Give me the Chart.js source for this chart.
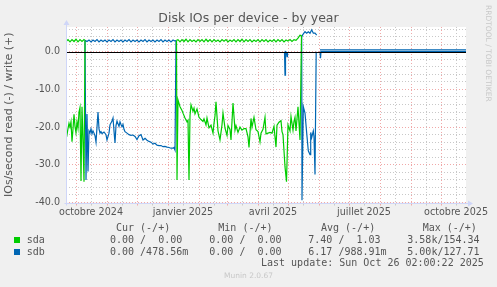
<!DOCTYPE html>
<html>
<head>
<meta charset="utf-8">
<script src="https://cdn.jsdelivr.net/npm/chart.js@4.4.1/dist/chart.umd.min.js"></script>
<style>
body { margin: 0; background: #f0f0f0; }
#wrap { position: relative; width: 497px; height: 287px; overflow: hidden; }
canvas { position: absolute; left: 0; top: 0; }
.t { position: absolute; font-family: 'DejaVu Sans Mono', monospace; font-size: 10px; line-height: 12px; color: #555; white-space: pre; }
.box { position: absolute; width: 6px; height: 6px; }
.sig { position: absolute; font-family: 'DejaVu Sans', sans-serif; font-size: 7.5px; line-height: 9px; color: #c8c8c8; white-space: pre; }
</style>
</head>
<body>
<div id="wrap">
<canvas id="chart" width="497" height="287"></canvas>
<div class="sig" style="left:484px; top:5px; writing-mode:vertical-rl;">RRDTOOL / TOBI OETIKER</div>
<div class="sig" style="left:0; width:497px; text-align:center; top:271px;">Munin 2.0.67</div>
<div id="legend"></div>
</div>
<script>
// days since 2024-09-21 (start of the 400 day window)
const monthDays = [10, 41, 71, 102, 133, 161, 192, 222, 253, 283, 314, 345, 375];
const midDays = [25, 56, 86, 117, 148, 176, 207, 237, 268, 298, 329, 360, 390];
const labelDays = [25, 117, 207, 298, 390];
const monthLabels = ['octobre 2024', 'janvier 2025', 'avril 2025', 'juillet 2025', 'octobre 2025'];
const yGrid = [-40, -38, -36, -34, -32, -30, -28, -26, -24, -22, -20, -18, -16, -14, -12, -10, -8, -6, -4, -2, 0, 2, 4, 6];
const yLabels = [-40, -30, -20, -10, 0];

// [day, value] ; null breaks the line
const sdaRead = [
  [0,-21.2],[1,-22],[2,-20.4],[3,-19],[4,-20],[5,-18.6],[6,-23.9],[7,-20.5],[8,-16.6],[9,-19.8],
  [10,-21.5],[11,-18.6],[12,-20.3],[13,-16],[14,-14.8],[15,-34.3],[16,-14.6],[17,-23.4],[18,-34.5],[19,3.0],
  [19.5,null],
  [110.5,3.0],[111,-34],[112,-12.8],[114,-14.6],[116,-15.6],[117,-16.3],[119,-17.6],[121,-18.6],[122,-18.2],
  [123,-34],[124,-17],[125,-14.1],[127,-15.8],[128,-15],[129,-16.5],[131,-15.2],[133,-17.4],[135,-18],
  [137,-18.5],[138,-17.8],[140,-19.4],[141,-17.6],[143,-20.2],[145,-19.5],[147,-21.6],[148,-19],[149,-17],
  [150,-13.3],[152,-21],[154,-23.4],[156,-19.4],[157,-16.3],[159,-20.3],[161,-22.2],[162,-19.6],[164,-20.6],
  [165,-23.4],[167,-13.6],[169,-20.8],[170,-19.6],[172,-21.4],[174,-20],[176,-20.8],[178,-20.4],[180,-20.4],
  [182,-22.6],[183,-25.4],[185,-17.7],[186,-20],[188,-17.4],[190,-20.7],[192,-21.2],[194,-23.9],[195,-21.6],
  [197,-20.6],[199,-17.4],[200,-21.8],[202,-21.6],[204,-21.4],[206,-21.6],[208,-19.8],[210,-25.3],[211,-19.5],
  [213,-18.7],[215,-18.3],[216,-21.2],[217,-22],[219,-30.5],[220.5,-34.5],[222,-19.4],[224,-21],[225,-17.2],
  [227,-20.8],[228,-18.5],[229,-17.4],[230,-21],[232,-14.6],[234,-23.4],[235.5,4.3]
];
const sdaWrite = [
  [0,2.7],[2,3.2],[4,2.6],[6,3.2],[8,2.7],[10,3.3],[12,2.6],[14,3.2],[16,2.7],[18,3.2],[19,3.0],
  [19.5,null],
  [110.5,3.0],[112,3.2],[114,2.6],[116,3.2],[118,2.7],[120,3.3],[122,2.6],[124,3.2],[126,2.7],[128,3.1],
  [130,2.6],[132,3.2],[134,2.7],[136,3.2],[138,2.6],[140,3.3],[142,2.7],[144,3.2],[146,2.6],[148,3.2],
  [150,2.7],[152,3.1],[154,2.6],[156,3.2],[158,2.8],[160,3.2],[162,2.6],[164,3.1],[166,2.7],[168,3.2],
  [170,2.6],[172,3.2],[174,2.7],[176,3.3],[178,2.6],[180,3.2],[182,2.7],[184,3.2],[186,2.6],[188,3.1],
  [190,2.7],[192,3.2],[194,2.6],[196,3.2],[198,2.7],[200,3.2],[202,2.6],[204,3.1],[206,2.7],[208,3.2],
  [210,2.6],[212,3.2],[214,2.7],[216,3.2],[218,2.6],[220,3.1],[222,2.8],[224,3.2],[226,2.7],[228,3.2],
  [230,3.0],[232,3.6],[234,4.4],[235.5,4.3]
];
const sdbRead = [
  [19,3.0],[20,-34],[21,-16.5],[22,-31.8],[23,-21],[24,-21.5],[25,-20.5],[26,-21.8],[27,-21],[28,-21.6],
  [29,-22.3],[30,-24],[31,-20],[32,-16],[33,-20.5],[34,-21.6],[35,-21.2],[36,-21.7],[38,-21.3],[40,-22],
  [41,-23.4],[43,-21.6],[44,-19.4],[46,-18.4],[47,-17.6],[48,-21],[49,-24.2],[50,-19.6],[51,-18.4],[53,-19.8],
  [54,-18.6],[55,-19.3],[56,-19.9],[57,-19.3],[58,-20.6],[59,-21.2],[61,-21.6],[63,-22],[65,-22.2],[67,-22.1],
  [69,-22.5],[71,-23.3],[73,-22.3],[75,-22],[77,-23.4],[79,-23],[81,-23.5],[83,-23.8],[85,-24],[87,-24.5],
  [89,-24.3],[91,-24.8],[93,-24.9],[95,-24.9],[97,-25.2],[99,-25.1],[101,-25.3],[103,-25.4],[105,-25.6],
  [107,-25.6],[108,-25.4],[109,-26.1],[110,3.0],
  [110.5,null],
  [218.5,0],[219,-6.2],[219.5,0],[220.5,-0.2],[221,-1.3],[221.5,-0.2],
  [222,null],
  [235.7,4.0],[236,-39.4],[237.3,-14.6],[239,-16.3],[240.7,-21.6],[242.3,-26.3],[244,-27.3],[244.7,-21.4],
  [245.7,-22.8],[247.3,-21],[248,-22.5],[249,-32.6],[250.2,0],
  [251,null],
  [254,0],[254.5,-1.7],[255,0],[400,0]
];
const sdbWrite = [
  [19,3.0],[21,2.7],[23,3.1],[25,2.6],[27,3.1],[29,2.7],[31,3.2],[33,2.6],[35,3.1],[37,2.7],[39,3.1],
  [41,2.6],[43,3.1],[45,2.7],[47,3.2],[49,2.6],[51,3.1],[53,2.7],[55,3.1],[57,2.6],[59,3.1],[61,2.7],
  [63,3.2],[65,2.6],[67,3.1],[69,2.7],[71,3.1],[73,2.6],[75,3.1],[77,2.7],[79,3.2],[81,2.6],[83,3.1],
  [85,2.7],[87,3.1],[89,2.6],[91,3.1],[93,2.7],[95,3.2],[97,2.6],[99,3.1],[101,2.7],[103,3.1],[105,2.6],
  [107,3.1],[109,2.8],[110,3.0],
  [110.5,null],
  [235.7,4.0],[237,4.6],[239,5.3],[240.7,4.9],[242.3,5.3],[244,4.9],[245.7,5.8],[247.3,4.9],[249,4.9],[250.7,4.4],
  [251,null],
  [254,0.5],[400,0.5]
];

const seriesNames = ['sda', 'sdb'];
const seriesColors = ['#00cc00', '#0066b3'];
const statHeaders = ['Cur (-/+)', 'Min (-/+)', 'Avg (-/+)', 'Max (-/+)'];
const sdaStats = ['0.00 /  0.00', '0.00 /  0.00', '7.40 /  1.03', '3.58k/154.34'];
const sdbStats = ['0.00 /478.56m', '0.00 /  0.00', '6.17 /988.91m', '5.00k/127.71'];
const lastUpdate = 'Last update: Sun Oct 26 02:00:22 2025';

const gridDays = monthDays.concat(midDays).sort((a, b) => a - b);
const fontCol = '#555';
const pink = '#f0a8a8';
const grey = '#c8c8c8';

function line(data, color) {
    return {
        data: data.map(p => ({ x: p[0], y: p[1] })),
        borderColor: color,
        borderWidth: 1.2,
        pointRadius: 0,
        tension: 0,
        spanGaps: false,
        fill: false,
    };
}

const frame = {
    id: 'frame',
    beforeDraw(c) {
        const a = c.chartArea, ctx = c.ctx;
        ctx.save();
        ctx.fillStyle = '#fff';
        ctx.fillRect(a.left, a.top, a.right - a.left, a.bottom - a.top);
        ctx.restore();
    },
    afterDatasetsDraw(c) {
        const a = c.chartArea, ctx = c.ctx;
        const y0 = Math.round(c.scales.y.getPixelForValue(0)) + 0.5;
        ctx.save();
        ctx.strokeStyle = '#000';
        ctx.lineWidth = 1;
        ctx.beginPath();
        ctx.moveTo(a.left, y0);
        ctx.lineTo(a.right, y0);
        ctx.stroke();
        ctx.restore();
    },
    afterDraw(c) {
        const a = c.chartArea, ctx = c.ctx;
        const l = Math.round(a.left) + 0.5, b = Math.round(a.bottom) + 0.5;
        ctx.save();
        ctx.strokeStyle = '#cfd6f8';
        ctx.fillStyle = '#cfd6f8';
        ctx.lineWidth = 1;
        ctx.beginPath();
        ctx.moveTo(l, b + 2);
        ctx.lineTo(l, a.top - 2);
        ctx.moveTo(l - 2, b);
        ctx.lineTo(a.right + 2, b);
        ctx.stroke();
        ctx.beginPath();
        ctx.moveTo(l - 3, a.top - 2);
        ctx.lineTo(l + 3, a.top - 2);
        ctx.lineTo(l, a.top - 7);
        ctx.closePath();
        ctx.moveTo(a.right + 2, b - 3);
        ctx.lineTo(a.right + 2, b + 3);
        ctx.lineTo(a.right + 7, b);
        ctx.closePath();
        ctx.fill();
        ctx.restore();
    }
};

const chart = new Chart(document.getElementById('chart'), {
    type: 'line',
    data: {
        datasets: [
            line(sdaRead, seriesColors[0]),
            line(sdaWrite, seriesColors[0]),
            line(sdbRead, seriesColors[1]),
            line(sdbWrite, seriesColors[1]),
        ]
    },
    options: {
        responsive: false,
        animation: false,
        layout: { padding: 0 },
        plugins: {
            legend: { display: false },
            tooltip: { enabled: false },
            title: {
                display: true,
                text: 'Disk IOs per device - by year',
                color: fontCol,
                font: { family: 'DejaVu Sans', size: 12.5, weight: 'normal' },
                padding: { top: 11.5, bottom: 0.5 },
            },
        },
        scales: {
            x: {
                type: 'linear',
                min: 0,
                max: 400,
                afterBuildTicks: s => { s.ticks = gridDays.map(v => ({ value: v })); },
                afterFit: s => { s.height = 84.5; },
                ticks: {
                    autoSkip: false,
                    maxRotation: 0,
                    padding: 1,
                    color: fontCol,
                    font: { family: 'DejaVu Sans', size: 9.6 },
                    callback: v => { const i = labelDays.indexOf(v); return i < 0 ? '' : monthLabels[i]; },
                },
                grid: {
                    color: c => monthDays.includes(c.tick.value) ? pink : grey,
                    tickColor: c => monthDays.includes(c.tick.value) ? pink : grey,
                    tickLength: 3,
                },
                border: { display: false, dash: [1, 2] },
            },
            y: {
                min: -40,
                max: 6.55,
                afterBuildTicks: s => { s.ticks = yGrid.map(v => ({ value: v })); },
                afterFit: s => { s.width = 66; },
                ticks: {
                    autoSkip: false,
                    padding: 6,
                    color: fontCol,
                    font: { family: 'DejaVu Sans', size: 9.6 },
                    callback: v => yLabels.includes(v) ? v.toFixed(1) : '',
                },
                grid: {
                    drawTicks: false,
                    color: c => c.tick.value % 10 === 0 ? pink : grey,
                },
                border: { display: false, dash: [1, 2] },
                title: {
                    display: true,
                    text: 'IOs/second read (-) / write (+)',
                    color: fontCol,
                    font: { family: 'DejaVu Sans', size: 11 },
                    padding: { top: 3, bottom: 0 },
                },
            },
            // empty right margin so the title centres on the whole picture
            side: {
                position: 'right',
                min: 0,
                max: 1,
                afterFit: s => { s.width = 31; },
                ticks: { display: false },
                grid: { display: false, drawTicks: false },
                border: { display: false },
            },
        },
    },
    plugins: [frame],
});

// legend block under the plot
const lg = document.getElementById('legend');
function txt(s, left, top) {
    const d = document.createElement('div');
    d.className = 't';
    d.textContent = s;
    d.style.left = left + 'px';
    d.style.top = top + 'px';
    lg.appendChild(d);
}
const headLeft = [116, 218.3, 321, 422.7];
const valLeft = [110, 209.3, 308.3, 407.3];
statHeaders.forEach((h, i) => txt(h, headLeft[i], 221.7));
[sdaStats, sdbStats].forEach((row, r) => {
    const top = 234 + r * 11.7;
    const b = document.createElement('div');
    b.className = 'box';
    b.style.left = '14px';
    b.style.top = (top + 3) + 'px';
    b.style.background = seriesColors[r];
    lg.appendChild(b);
    txt(seriesNames[r], 26.7, top);
    row.forEach((v, i) => txt(v, valLeft[i], top));
});
txt(lastUpdate, 261, 257.3);
</script>
</body>
</html>
